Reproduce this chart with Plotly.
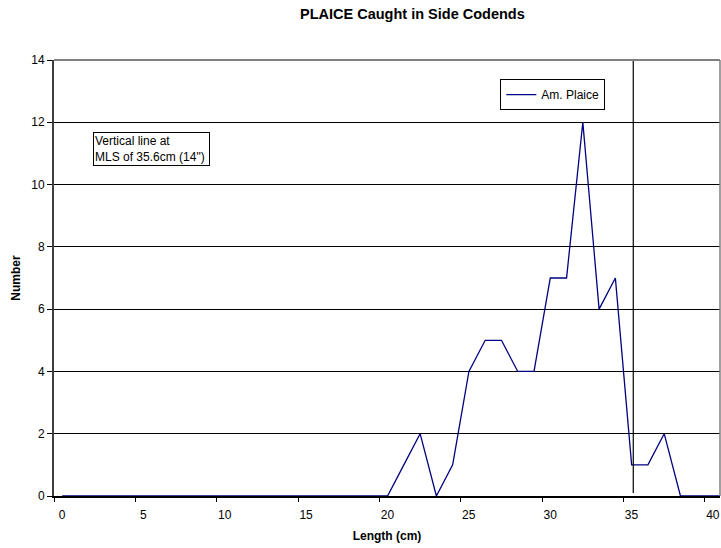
import plotly.graph_objects as go

# Data: bin midpoints (cm) and counts of American plaice
lengths = [i + 0.5 for i in range(42)]
counts = [0] * 20 + [0, 1, 2, 0, 1, 4, 5, 5, 4, 4, 7, 7, 12, 6, 7, 1, 1, 2, 0, 0, 0, 0]
x_ticks = [0, 5, 10, 15, 20, 25, 30, 35, 40]
y_ticks = [0, 2, 4, 6, 8, 10, 12, 14]
mls = 35.6

FONT = "Liberation Sans, Arial, sans-serif"

fig = go.Figure()
fig.add_trace(go.Scatter(
    x=lengths, y=counts, mode="lines", name="Am. Plaice",
    line=dict(color="#000080", width=1.3),
))

# MLS vertical line
fig.add_shape(type="line", xref="x", yref="y", x0=mls, x1=mls, y0=0.1, y1=14,
              line=dict(color="black", width=1.2), layer="above")
# top and right borders of plot area
fig.add_shape(type="line", xref="paper", yref="paper", x0=0, x1=1, y0=1, y1=1,
              line=dict(color="#808080", width=2))
fig.add_shape(type="line", xref="paper", yref="paper", x0=1, x1=1, y0=0, y1=1,
              line=dict(color="#808080", width=1.5))

fig.add_annotation(
    xref="paper", yref="paper", x=0.0586, y=0.835, xanchor="left", yanchor="top",
    text="Vertical line at<br>MLS of 35.6cm (14\") ", showarrow=False, align="left",
    font=dict(family=FONT, size=12, color="black"),
    bordercolor="black", borderwidth=1, borderpad=1, bgcolor="white",
)

fig.update_layout(
    width=721, height=548,
    margin=dict(l=54, r=1, t=60, b=52),
    paper_bgcolor="white", plot_bgcolor="white",
    font=dict(family=FONT, size=12, color="black"),
    title=dict(text="<b>PLAICE Caught in Side Codends</b>", x=0.572, xanchor="center",
               y=0.975, yanchor="middle", xref="container",
               font=dict(family=FONT, size=14.5, color="black")),
    showlegend=True,
    legend=dict(x=0.749, y=0.956, xanchor="center", yanchor="top",
                bordercolor="black", borderwidth=1, bgcolor="white",
                font=dict(family=FONT, size=12, color="black"),
                itemwidth=30, tracegroupgap=0),
    xaxis=dict(
        range=[0, 40.93], tickmode="array", tickvals=x_ticks,
        ticktext=[str(v) for v in x_ticks],
        ticks="outside", ticklen=4, tickcolor="black",
        showline=True, linecolor="black", linewidth=1.5,
        showgrid=False, zeroline=False,
        ticklabelshift=8, ticklabelstandoff=3,
        title=dict(text="<b>Length (cm)</b>", standoff=10,
                   font=dict(family=FONT, size=12, color="black")),
        tickfont=dict(family=FONT, size=12, color="black"),
    ),
    yaxis=dict(
        range=[0, 14], tickmode="array", tickvals=y_ticks,
        ticks="outside", ticklen=5, tickcolor="black",
        showline=True, linecolor="#404040", linewidth=2,
        showgrid=True, gridcolor="black", gridwidth=1, zeroline=False,
        title=dict(text="<b>Number</b>", standoff=8,
                   font=dict(family=FONT, size=12, color="black")),
        tickfont=dict(family=FONT, size=12, color="black"),
    ),
)

fig.write_html("out.html")
